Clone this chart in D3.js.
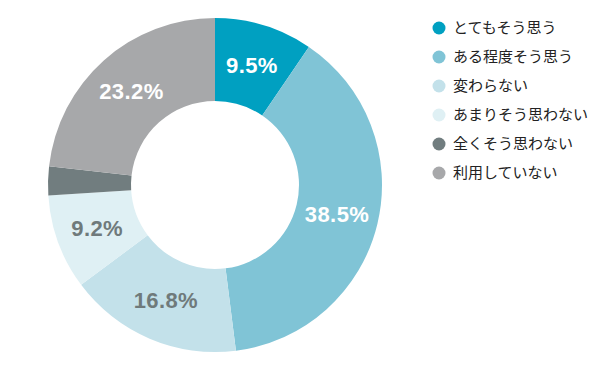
<!DOCTYPE html>
<html>
<head>
<meta charset="utf-8">
<script src="https://cdn.jsdelivr.net/npm/d3@7"></script>
<style>
  body { margin: 0; background: #fff; }
  svg { display: block; }
</style>
</head>
<body>
<svg id="chart" width="600" height="371"></svg>
<script>
const categories = ["とてもそう思う", "ある程度そう思う", "変わらない", "あまりそう思わない", "全くそう思わない", "利用していない"];
const values = [9.5, 38.5, 16.8, 9.2, 2.8, 23.2];
const colors = ["#00a0c1", "#80c4d6", "#c3e1ea", "#dff0f4", "#717d7f", "#a7a8aa"];
const labelColors = ["#fff", "#fff", "#6f7a7b", "#6f7a7b", null, "#fff"];

const svg = d3.select("#chart");
const cx = 215, cy = 185;
const outerR = 167, innerR = 84;

const pie = d3.pie().sort(null).value(d => d);
const arc = d3.arc().innerRadius(innerR).outerRadius(outerR);

const g = svg.append("g").attr("transform", `translate(${cx},${cy})`);
const arcs = pie(values);

g.selectAll("path")
  .data(arcs)
  .enter()
  .append("path")
  .attr("d", arc)
  .attr("fill", (d, i) => colors[i]);

g.selectAll("text")
  .data(arcs.filter((d, i) => labelColors[i]))
  .enter()
  .append("text")
  .attr("transform", d => `translate(${arc.centroid(d)})`)
  .attr("text-anchor", "middle")
  .attr("dy", "0.36em")
  .attr("font-family", "'Liberation Sans', Arial, sans-serif")
  .attr("font-weight", "bold")
  .attr("font-size", 22)
  .attr("letter-spacing", 0.4)
  .attr("fill", d => labelColors[d.index])
  .text(d => d.data.toFixed(1) + "%");

// legend
const legend = svg.append("g").attr("transform", "translate(439,28)");
const item = legend.selectAll("g")
  .data(categories)
  .enter()
  .append("g")
  .attr("transform", (d, i) => `translate(0,${i * 29})`);

item.append("circle")
  .attr("r", 6.5)
  .attr("fill", (d, i) => colors[i]);

item.append("text")
  .attr("x", 14)
  .attr("dy", "0.36em")
  .attr("font-family", "'Noto Sans CJK JP', sans-serif")
  .attr("font-size", 15)
  .attr("fill", "#222")
  .text(d => d);
</script>
</body>
</html>
